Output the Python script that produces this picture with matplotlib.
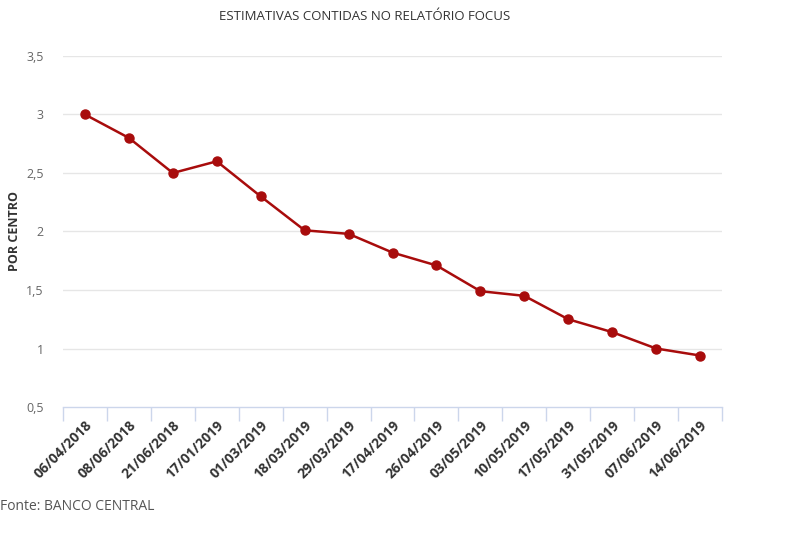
import matplotlib
matplotlib.use("Agg")
import matplotlib.pyplot as plt
import numpy as np

plt.rcParams['font.family'] = ['Open Sans', 'DejaVu Sans']

dates = ["06/04/2018", "08/06/2018", "21/06/2018", "17/01/2019", "01/03/2019",
         "18/03/2019", "29/03/2019", "17/04/2019", "26/04/2019", "03/05/2019",
         "10/05/2019", "17/05/2019", "31/05/2019", "07/06/2019", "14/06/2019"]
values = [3.0, 2.8, 2.5, 2.6, 2.3, 2.01, 1.98, 1.82, 1.71, 1.49, 1.45, 1.25, 1.14, 1.0, 0.94]
y_ticks = [0.5, 1, 1.5, 2, 2.5, 3, 3.5]
y_tick_labels = ["0,5", "1", "1,5", "2", "2,5", "3", "3,5"]

W, H = 800, 534
fig = plt.figure(figsize=(W / 100, H / 100), dpi=100)
ax = fig.add_axes([63 / W, 1 - 407 / H, (722 - 63) / W, (407 - 56) / H])

x = np.arange(len(dates))
ax.plot(x, values, color='#a80c0c', lw=1.8, marker='o', markersize=6.5, zorder=3)

ax.set_xlim(-0.5, len(dates) - 0.5)
ax.set_ylim(0.5, 3.5)
ax.set_yticks(y_ticks)
ax.set_yticklabels(y_tick_labels, color='#666666', fontsize=9)
for yv in y_ticks[1:]:
    ax.axhline(yv, color='#e6e6e6', lw=1, zorder=1)

ax.set_xticks(x)
ax.set_xticklabels(dates, rotation=45, ha='right', rotation_mode='anchor',
                   fontsize=10, fontweight='bold', color='#333333')
ax.set_xticks(np.arange(len(dates) + 1) - 0.5, minor=True)
ax.tick_params(axis='x', which='major', length=0, pad=8)
ax.tick_params(axis='x', which='minor', length=10, color='#ccd6eb', width=1)
ax.tick_params(axis='y', length=0, pad=14)

for s in ['top', 'right', 'left']:
    ax.spines[s].set_visible(False)
ax.spines['bottom'].set_color('#ccd6eb')
ax.spines['bottom'].set_linewidth(1)

fig.text(365 / W, 1 - 17 / H, "ESTIMATIVAS CONTIDAS NO RELATÓRIO FOCUS",
         ha='center', va='center', fontsize=9.5, color='#333333')
fig.text(14 / W, 1 - 231 / H, "POR CENTRO", rotation=90, ha='center', va='center',
         fontsize=9, fontweight='bold', color='#333333')
fig.text(0, 1 - 506 / H, "Fonte: BANCO CENTRAL", ha='left', va='center',
         fontsize=10, color='#555555')

fig.savefig("out.png", dpi=100)
